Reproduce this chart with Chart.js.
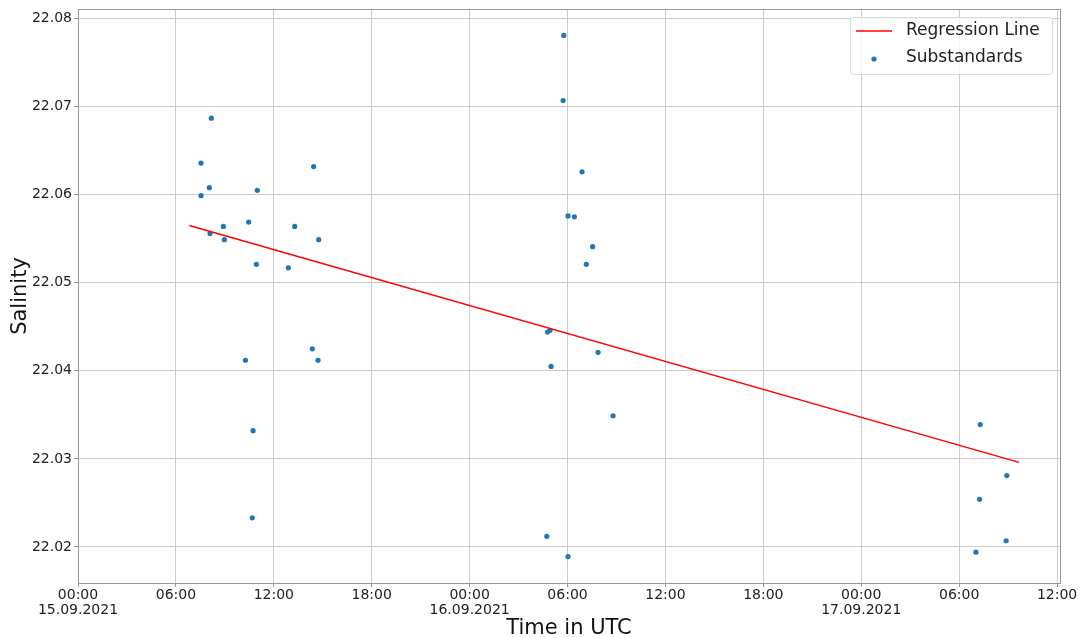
<!DOCTYPE html>
<html>
<head>
<meta charset="utf-8">
<script src="https://cdn.jsdelivr.net/npm/chart.js@4.4.1/dist/chart.umd.min.js"></script>
<style>
  html, body { margin: 0; padding: 0; background: #fff; }
  #wrap { width: 1081px; height: 638px; }
</style>
</head>
<body>
<div id="wrap"><canvas id="myChart" width="1081" height="638"></canvas></div>
<script>
// hours since 15.09.2021 00:00 UTC
var hours = [8.17, 7.54, 8.05, 7.54, 10.99, 14.44, 8.91, 8.09, 8.97, 10.46, 13.28, 14.75, 10.93, 12.89,
             10.26, 14.36, 14.71, 10.73, 10.68,
             29.77, 29.73, 30.89, 30.03, 30.42, 31.54, 31.15,
             28.77, 28.93, 28.99, 31.87, 32.79, 28.73, 30.03,
             55.29, 56.92, 55.25, 56.88, 55.03];
var salinity = [22.0687, 22.0636, 22.0608, 22.0599, 22.0605, 22.0632, 22.0564, 22.0556, 22.0549, 22.0569, 22.0564, 22.0549, 22.0521, 22.0517,
                22.0412, 22.0425, 22.0412, 22.0332, 22.0233,
                22.0781, 22.0707, 22.0626, 22.0576, 22.0575, 22.0541, 22.0521,
                22.0444, 22.0446, 22.0405, 22.0421, 22.0349, 22.0212, 22.0189,
                22.0339, 22.0281, 22.0254, 22.0207, 22.0194];
var lineHours = [6.82, 57.67];
var lineSalinity = [22.0565, 22.0296];

var xTicks = [0, 6, 12, 18, 24, 30, 36, 42, 48, 54, 60];
var xTickLabels = [['00:00', '15.09.2021'], '06:00', '12:00', '18:00', ['00:00', '16.09.2021'], '06:00', '12:00', '18:00', ['00:00', '17.09.2021'], '06:00', '12:00'];
var yTicks = [22.02, 22.03, 22.04, 22.05, 22.06, 22.07, 22.08];

var font = "'DejaVu Sans', sans-serif";

function pts(xs, ys) {
    return xs.map(function (x, i) { return {x: x, y: ys[i]}; });
}

// frame + legend drawn inside the plot area
var boxPlugin = {
    id: 'boxPlugin',
    afterDraw: function (chart) {
        var c = chart.ctx, a = chart.chartArea;
        c.save();
        c.strokeStyle = '#999';
        c.lineWidth = 1;
        c.strokeRect(Math.round(a.left) + 0.5, Math.round(a.top) + 0.5, Math.round(a.right - a.left), Math.round(a.bottom - a.top));

        var bx = a.right - 210, by = a.top + 8, bw = 202, bh = 57;
        c.fillStyle = 'rgba(255,255,255,0.8)';
        c.strokeStyle = '#dcdcdc';
        c.beginPath();
        c.roundRect(bx + 0.5, by + 0.5, bw, bh, 3);
        c.fill();
        c.stroke();

        c.strokeStyle = '#ff0000';
        c.lineWidth = 1.5;
        c.beginPath();
        c.moveTo(bx + 6, by + 14);
        c.lineTo(bx + 42, by + 14);
        c.stroke();

        c.fillStyle = '#1f77b4';
        c.beginPath();
        c.arc(bx + 24, by + 42, 2.6, 0, Math.PI * 2);
        c.fill();

        c.fillStyle = '#222';
        c.font = '17px ' + font;
        c.textBaseline = 'middle';
        c.fillText(chart.data.datasets[0].label, bx + 56, by + 14);
        c.fillText(chart.data.datasets[1].label, bx + 56, by + 41);
        c.restore();
    }
};

var ctx = document.getElementById('myChart').getContext('2d');
var myChart = new Chart(ctx, {
    type: 'scatter',
    data: {
        datasets: [{
            type: 'line',
            label: 'Regression Line',
            data: pts(lineHours, lineSalinity),
            borderColor: '#ff0000',
            borderWidth: 1.5,
            pointRadius: 0,
            fill: false
        }, {
            label: 'Substandards',
            data: pts(hours, salinity),
            backgroundColor: '#1f77b4',
            borderColor: '#1f77b4',
            pointRadius: 2.6,
            borderWidth: 0
        }]
    },
    options: {
        responsive: false,
        animation: false,
        layout: { padding: { top: 8, right: 21, left: 0, bottom: 0 } },
        plugins: { legend: { display: false }, tooltip: { enabled: false } },
        scales: {
            x: {
                type: 'linear',
                min: 0,
                max: 60.18,
                afterBuildTicks: function (s) { s.ticks = xTicks.map(function (v) { return {value: v}; }); },
                afterFit: function (s) { s.height = 55; },
                ticks: {
                    autoSkip: false,
                    maxRotation: 0,
                    padding: 1,
                    color: '#222',
                    font: { family: font, size: 14, lineHeight: 1.08 },
                    callback: function (v) { return xTickLabels[xTicks.indexOf(v)]; }
                },
                grid: { color: '#cccccc', tickLength: 4, tickColor: '#999' },
                border: { color: '#999' },
                title: {
                    display: true,
                    text: 'Time in UTC',
                    color: '#111',
                    font: { family: font, size: 21, lineHeight: 1.0 },
                    padding: { top: 0, bottom: -1 }
                }
            },
            y: {
                min: 22.0159,
                max: 22.0811,
                afterBuildTicks: function (s) { s.ticks = yTicks.map(function (v) { return {value: v}; }); },
                afterFit: function (s) { s.width = 78; },
                ticks: {
                    padding: 2,
                    color: '#222',
                    font: { family: font, size: 14, lineHeight: 1.0 },
                    callback: function (v) { return v.toFixed(2); }
                },
                grid: { color: '#cccccc', tickLength: 4, tickColor: '#999' },
                border: { color: '#999' },
                title: {
                    display: true,
                    text: 'Salinity',
                    color: '#111',
                    font: { family: font, size: 21, lineHeight: 1.0 },
                    padding: { top: 10, bottom: 0 }
                }
            }
        }
    },
    plugins: [boxPlugin]
});
</script>
</body>
</html>
